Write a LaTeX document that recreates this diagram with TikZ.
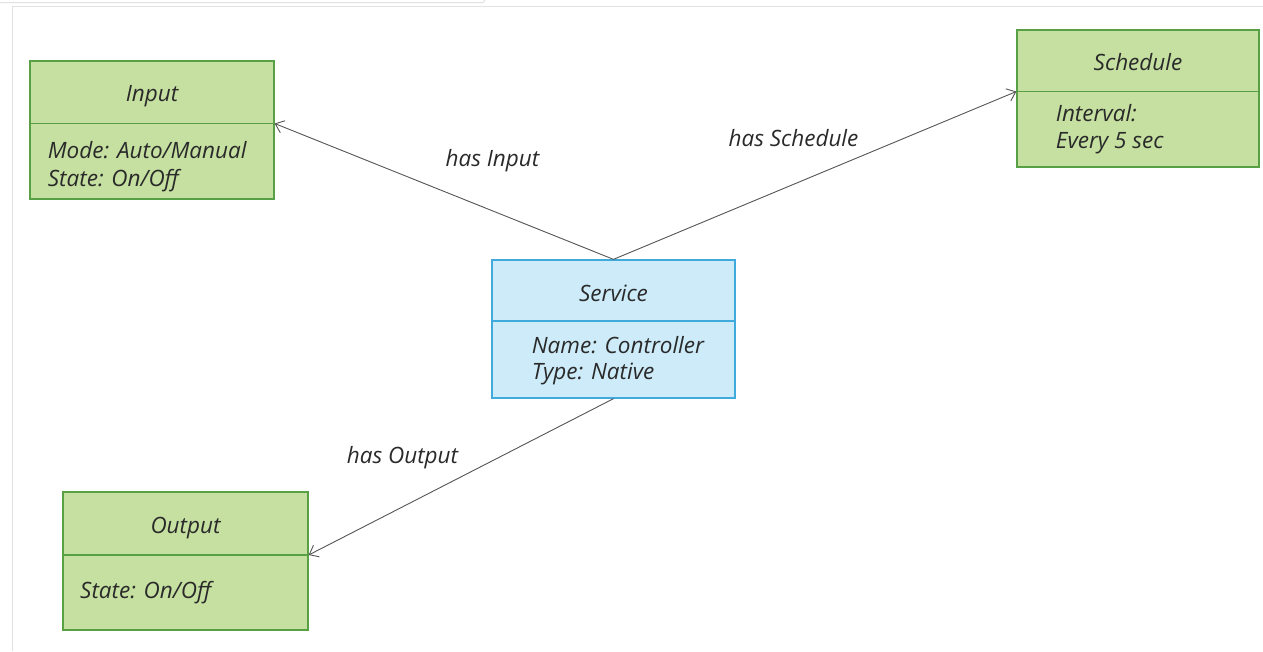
\documentclass[tikz,border=0pt]{standalone}
\usepackage{fontspec}
\setmainfont{Open Sans}
\usetikzlibrary{arrows.meta}

\definecolor{fillgreen}{HTML}{C5E0A0}
\definecolor{edgegreen}{HTML}{58A044}
\definecolor{fillblue}{HTML}{CDEBF8}
\definecolor{edgeblue}{HTML}{40AADC}
\definecolor{textgray}{HTML}{2A2A2A}
\definecolor{linkgray}{HTML}{555555}
\definecolor{framegray}{HTML}{E2E2E2}

\begin{document}
\begin{tikzpicture}[x=1pt,y=-1pt,
  classbox/.style={draw=edgegreen, fill=fillgreen, line width=1.3pt, inner sep=0pt,
    minimum width=244pt, minimum height=138pt},
  servicebox/.style={classbox, draw=edgeblue, fill=fillblue},
  divider/.style={line width=1.4pt},
  title/.style={font=\itshape\fontsize{22.5}{26}\selectfont, text=textgray, anchor=base, inner sep=0pt},
  attr/.style={title, anchor=base west},
  lbl/.style={title},
  link/.style={draw=linkgray, line width=0.9pt, -{Straight Barb[length=8pt,width=13pt]}}]

  \useasboundingbox (0,0) rectangle (1263,651);
  \fill[white] (0,0) rectangle (1263,651);

  % window frame lines
  \draw[framegray, line width=1pt] (0,2.5) -- (483,2.5) -- (485,0);
  \draw[framegray, line width=1pt] (12,651) -- (12,6) -- (1263,6);

  % classes
  \node[classbox] (input) at (152,130) {};
  \coordinate (inputsep) at (152,123.5);
  \draw[divider, edgegreen] (input.west |- inputsep) -- (input.east |- inputsep);
  \node[title] (inputtitle) at (152,101.7) {Input};
  \node[attr] (inputmode) at (47.7,158.3) {Mode: Auto/Manual};
  \node[attr] (inputstate) at (47.7,186.7) {State: On/Off};

  \node[classbox, minimum width=242pt, minimum height=137pt] (schedule) at (1138,98.5) {};
  \coordinate (schedulesep) at (1138,91.5);
  \draw[divider, edgegreen] (schedule.west |- schedulesep) -- (schedule.east |- schedulesep);
  \node[title] (scheduletitle) at (1138,70) {Schedule};
  \node[attr] (scheduleinterval) at (1055.7,121.7) {Interval:};
  \node[attr] (scheduleevery) at (1055.7,148) {Every 5 sec};

  \node[servicebox, minimum width=243pt] (service) at (613.5,329) {};
  \coordinate (servicesep) at (613.5,321);
  \draw[divider, edgeblue] (service.west |- servicesep) -- (service.east |- servicesep);
  \node[title] (servicetitle) at (613.5,301.7) {Service};
  \node[attr] (servicename) at (531.7,353.3) {Name: Controller};
  \node[attr] (servicetype) at (531.7,379) {Type: Native};

  \node[classbox, minimum width=245pt] (output) at (185.5,561) {};
  \coordinate (outputsep) at (185.5,555);
  \draw[divider, edgegreen] (output.west |- outputsep) -- (output.east |- outputsep);
  \node[title] (outputtitle) at (185.5,533) {Output};
  \node[attr] (outputstate) at (80,598) {State: On/Off};

  % associations
  \draw[link] (service.north) -- (input.east |- inputsep);
  \draw[link] (service.north) -- (schedule.west |- schedulesep);
  \draw[link] (service.south) -- (output.east |- outputsep);

  \node[lbl] (hasinput) at (492.5,166.7) {has Input};
  \node[lbl] (hasschedule) at (793.5,146.7) {has Schedule};
  \node[lbl] (hasoutput) at (402.5,463) {has Output};
\end{tikzpicture}
\end{document}
